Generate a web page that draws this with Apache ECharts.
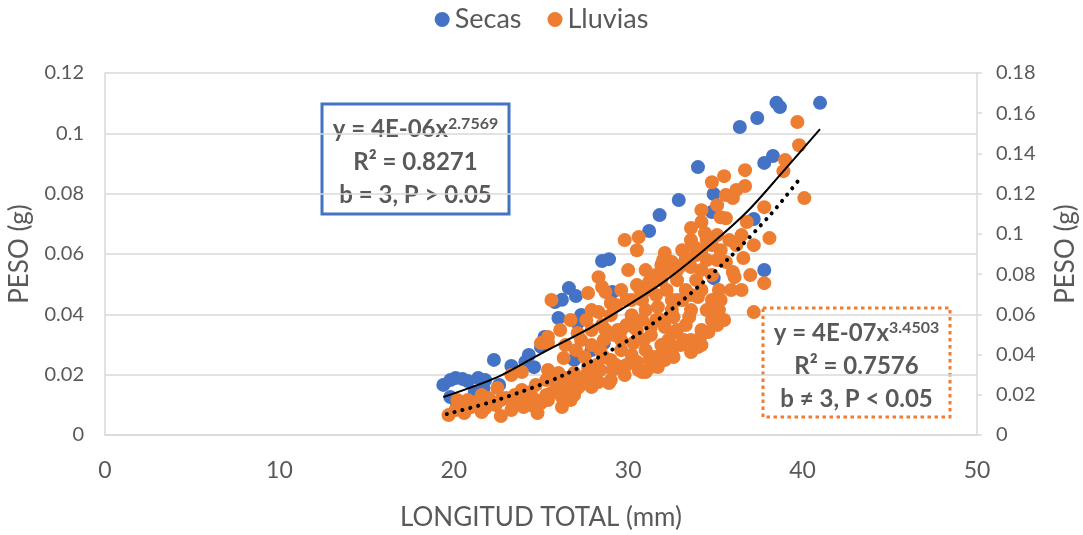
<!DOCTYPE html>
<html>
<head>
<meta charset="utf-8">
<script src="https://cdn.jsdelivr.net/npm/echarts@6/dist/echarts.min.js"></script>
<style>
	html, body { margin: 0; padding: 0; background: #fff; }
	#chart { width: 1083px; height: 535px; }
</style>
</head>
<body>
<div id="chart"></div>
<script>
// Secas (left axis)
const secasX = [19.4, 19.8, 20.1, 20.5, 20.8, 21.4, 21.8, 19.8, 20.2, 21.2, 21.7, 22.6, 22.3, 23.3, 24.1,
	24.3, 24.6, 25.0, 25.2, 25.8, 26.2, 26.6, 27.0, 26.0, 27.3, 27.1, 27.9, 26.9, 28.5, 28.9, 29.1, 30.9,
	31.2, 31.8, 32.9, 34.0, 34.9, 34.8, 35.1, 34.9, 36.4, 37.4, 38.5, 38.7, 41.0, 37.8, 38.3, 37.8, 37.2, 28.6];
const secasY = [0.0166, 0.0182, 0.0189, 0.0186, 0.0179, 0.0189, 0.0182, 0.0126, 0.0099, 0.0143, 0.0156, 0.0166, 0.0249, 0.0229, 0.0242,
	0.0265, 0.0225, 0.0292, 0.0325, 0.0441, 0.0448, 0.0487, 0.0461, 0.0388, 0.0398, 0.0371, 0.0282, 0.0249, 0.0577, 0.0583, 0.0474, 0.0481,
	0.0676, 0.0729, 0.0779, 0.0888, 0.0799, 0.0739, 0.0424, 0.0520, 0.1021, 0.1051, 0.1101, 0.1087, 0.1101, 0.0902, 0.0925, 0.0547, 0.0716, 0.0305];

// Lluvias (right axis)
const lluviasX = [19.7, 20.6, 21.6, 22.7, 20.2, 20.8, 21.0, 21.6, 22.0, 22.5, 22.7, 23.3, 23.5, 23.3, 23.9, 24.0,
	24.4, 24.8, 25.0, 25.4, 25.6, 26.0, 26.2, 26.2, 26.3, 26.3, 26.6, 26.9, 26.9, 27.1, 27.1, 25.4, 25.4, 25.6,
	25.0, 25.4, 27.5, 27.7, 27.9, 28.3, 28.6, 28.6, 28.9, 29.0, 29.8, 30.6, 30.8, 31.3, 31.7, 31.5, 32.1, 32.6,
	27.7, 28.3, 28.5, 28.7, 28.3, 29.0, 29.2, 29.4, 29.8, 30.0, 30.5, 30.6, 30.8, 30.9, 30.3, 30.3, 31.2, 31.3,
	31.7, 31.9, 32.1, 32.0, 32.4, 32.5, 32.3, 32.6, 33.1, 33.2, 33.5, 33.6, 33.8, 34.0, 34.0, 34.2, 34.4, 34.2,
	34.6, 34.8, 34.8, 35.2, 35.3, 35.5, 35.5, 35.6, 35.8, 36.0, 36.0, 36.1, 36.6, 36.7, 36.7, 36.8, 37.0, 37.2,
	37.8, 37.8, 38.1, 38.9, 39.0, 39.7, 39.8, 40.1, 32.1, 32.5, 32.6,
	29.6, 30.2, 31.0, 31.9, 32.8, 33.3, 33.6, 33.1, 32.2, 31.6, 31.0, 30.2, 29.6, 29.0, 28.2, 27.6, 27.0, 29.3,
	29.9, 30.8, 31.6, 32.5, 33.3, 33.9, 34.2, 34.5, 34.8, 34.5, 35.1, 35.3, 35.1, 33.9, 33.1, 33.6, 32.8, 31.9,
	31.3, 34.2, 34.8, 35.6, 36.2, 36.5, 37.2, 35.9, 35.3, 28.5, 27.9, 27.3, 27.9, 29.6, 30.5, 31.0, 31.6, 29.9,
	25.3, 24.7, 25.9, 23.9, 24.4, 23.0, 22.4, 21.8, 21.3, 26.7, 31.0, 33.6, 34.2, 35.1, 35.2,
	20.1, 20.7, 22.1, 23.6, 24.1, 25.3, 24.7, 25.9, 26.4, 27.3, 27.9, 28.4, 29.1, 29.9, 30.5, 31.2, 31.9, 32.5,
	33.0, 33.6, 34.2, 34.8, 28.4, 27.9, 27.0, 26.4, 26.1, 26.7, 27.6, 29.0, 29.3, 30.2, 30.7, 31.3, 32.2, 32.8,
	33.3, 34.2, 34.5, 33.6, 34.2, 35.1, 35.6, 36.2, 31.9, 32.8, 33.6, 31.3, 30.5, 29.6, 28.7, 36.5];
const lluviasY = [0.0099, 0.0109, 0.0114, 0.0094, 0.0174, 0.0174, 0.0139, 0.0199, 0.0184, 0.0234, 0.0174, 0.0124, 0.0199, 0.0298, 0.0313, 0.0139,
	0.0149, 0.0109, 0.0159, 0.0174, 0.0209, 0.0308, 0.0139, 0.0189, 0.0224, 0.0383, 0.0258, 0.0199, 0.0308, 0.0234, 0.0507, 0.0457, 0.0323, 0.0671,
	0.0457, 0.0487, 0.0388, 0.0338, 0.0239, 0.0263, 0.0388, 0.0472, 0.0258, 0.0273, 0.0298, 0.0323, 0.0313, 0.0338, 0.0338, 0.0388, 0.0373, 0.0388,
	0.0706, 0.0785, 0.0736, 0.0711, 0.0611, 0.0656, 0.0497, 0.0522, 0.0969, 0.0820, 0.0919, 0.0984, 0.0671, 0.0472, 0.0457, 0.0537, 0.0760, 0.0537,
	0.0636, 0.0845, 0.0905, 0.0870, 0.0835, 0.0860, 0.0472, 0.0586, 0.0845, 0.0472, 0.0586, 0.0835, 0.0934, 0.0686, 0.0437, 0.1059, 0.1004, 0.0522,
	0.0512, 0.0795, 0.1257, 0.0721, 0.1083, 0.0572, 0.1287, 0.1078, 0.0969, 0.1178, 0.0810, 0.0785, 0.0880, 0.1317, 0.1238, 0.1059, 0.0795, 0.0611,
	0.0755, 0.1133, 0.0979, 0.1312, 0.1367, 0.1556, 0.1441, 0.1178, 0.0537, 0.0671, 0.0507,
	0.0422, 0.0398, 0.0422, 0.0447, 0.0522, 0.0547, 0.0621, 0.0671, 0.0721, 0.0696, 0.0621, 0.0596, 0.0472, 0.0373, 0.0348, 0.0298, 0.0273, 0.0348,
	0.0547, 0.0572, 0.0572, 0.0621, 0.0721, 0.0770, 0.0721, 0.0621, 0.0671, 0.0870, 0.0870, 0.0919, 0.0994, 0.0895, 0.0919, 0.0969, 0.0770, 0.0770,
	0.0721, 0.0820, 0.0944, 0.0860, 0.0944, 0.0994, 0.0944, 0.0721, 0.0671, 0.0547, 0.0522, 0.0472, 0.0621, 0.0721, 0.0746, 0.0820, 0.0795, 0.0671,
	0.0273, 0.0249, 0.0283, 0.0224, 0.0214, 0.0184, 0.0149, 0.0134, 0.0164, 0.0174, 0.0313, 0.0413, 0.0447, 0.0547, 0.0621,
	0.0124, 0.0149, 0.0164, 0.0164, 0.0199, 0.0199, 0.0174, 0.0234, 0.0283, 0.0249, 0.0298, 0.0323, 0.0323, 0.0348, 0.0363, 0.0373, 0.0398, 0.0422,
	0.0447, 0.0472, 0.0497, 0.0572, 0.0422, 0.0447, 0.0422, 0.0447, 0.0522, 0.0572, 0.0572, 0.0596, 0.0646, 0.0671, 0.0721, 0.0770, 0.0820, 0.0820,
	0.0880, 0.0919, 0.0969, 0.1029, 0.1118, 0.1143, 0.1193, 0.1218, 0.0572, 0.0671, 0.0696, 0.0497, 0.0522, 0.0522, 0.0522, 0.0721];

// trend lines
const trendSecasX = [19.4, 22.5, 25.0, 27.9, 30.2, 32.1, 34.9, 36.9, 38.8, 41.0];
const trendSecasY = [0.0126, 0.0192, 0.0270, 0.0358, 0.0438, 0.0510, 0.0640, 0.0745, 0.0868, 0.1014];
const trendLluviasX = [19.6, 22.5, 26.3, 30.2, 33.0, 35.9, 38.2, 39.8];
const trendLluviasY = [0.0104, 0.0174, 0.0298, 0.0482, 0.0661, 0.0890, 0.1100, 0.1270];

const boxSecas = ['y = 4E-06x', '2.7569', 'R² = 0.8271', 'b = 3, P > 0.05'];
const boxLluvias = ['y = 4E-07x', '3.4503', 'R² = 0.7576', 'b ≠ 3, P < 0.05'];

const FONT = 'Lato, "Open Sans", sans-serif';
const TEXT = '#595959';
const GRID = '#d9d9d9';

const zip = (xs, ys) => xs.map((x, i) => [x, ys[i]]);

function boxGraphic(left, top, w, h, color, dash, fill, lines) {
	const cx = left + w / 2;
	const bold = { fontFamily: FONT, fontWeight: 'bold', fontSize: 24, fill: TEXT };
	return {
		type: 'group',
		z: 10,
		children: [
			{
				type: 'rect',
				shape: { x: left, y: top, width: w, height: h },
				style: { fill: fill, stroke: color, lineWidth: 3, lineDash: dash }
			},
			{
				type: 'text',
				style: {
					x: cx, y: top + 25, align: 'center', verticalAlign: 'middle',
					text: '{a|' + lines[0] + '}{s|' + lines[1] + '}',
					rich: {
						a: { fontFamily: FONT, fontWeight: 'bold', fontSize: 24, fill: TEXT },
						s: { fontFamily: FONT, fontWeight: 'bold', fontSize: 16, fill: TEXT, verticalAlign: 'top', padding: [0, 0, 10, 0] }
					}
				}
			},
			{ type: 'text', style: Object.assign({ x: cx, y: top + 58, align: 'center', verticalAlign: 'middle', text: lines[2] }, bold) },
			{ type: 'text', style: Object.assign({ x: cx, y: top + 91, align: 'center', verticalAlign: 'middle', text: lines[3] }, bold) }
		]
	};
}

const chart = echarts.init(document.getElementById('chart'));

const axisLabel = { fontFamily: FONT, fontSize: 20, color: TEXT };
const nameStyle = { fontFamily: FONT, fontSize: 26, color: TEXT };

chart.setOption({
	animation: false,
	textStyle: { fontFamily: FONT },
	legend: {
		data: ['Secas', 'Lluvias'],
		top: 1,
		left: 'center',
		icon: 'circle',
		itemWidth: 15,
		itemHeight: 15,
		itemGap: 26,
		textStyle: { fontFamily: FONT, fontSize: 27, color: TEXT }
	},
	grid: { left: 105, right: 106, top: 73, bottom: 100, outerBoundsMode: 'none' },
	xAxis: {
		type: 'value',
		min: 0, max: 50, interval: 10,
		name: 'LONGITUD TOTAL (mm)',
		nameLocation: 'middle',
		nameGap: 70,
		nameTextStyle: nameStyle,
		axisLine: { show: true, lineStyle: { color: GRID, width: 1.5 } },
		axisTick: { show: false },
		axisLabel: Object.assign({}, axisLabel, { fontSize: 23, margin: 24 }),
		splitLine: { show: false }
	},
	yAxis: [
		{
			type: 'value',
			min: 0, max: 0.12, interval: 0.02,
			name: 'PESO (g)',
			nameLocation: 'middle',
			nameGap: 72,
			nameRotate: 90,
			nameTextStyle: nameStyle,
			axisLine: { show: true, lineStyle: { color: GRID, width: 1.5 } },
			axisTick: { show: false },
			axisLabel: Object.assign({ margin: 21 }, axisLabel),
			splitLine: { lineStyle: { color: GRID, width: 1.5 } }
		},
		{
			type: 'value',
			min: 0, max: 0.18, interval: 0.02,
			name: 'PESO (g)',
			nameLocation: 'middle',
			nameGap: 76,
			nameRotate: 90,
			nameTextStyle: nameStyle,
			axisLine: { show: true, lineStyle: { color: GRID, width: 1.5 } },
			axisTick: { show: true, length: 5, lineStyle: { color: GRID, width: 1.5 } },
			axisLabel: Object.assign({ margin: 19 }, axisLabel),
			splitLine: { show: false }
		}
	],
	series: [
		{
			name: 'Secas',
			type: 'scatter',
			yAxisIndex: 0,
			symbolSize: 14,
			itemStyle: { color: '#4472c4', opacity: 1 },
			data: zip(secasX, secasY)
		},
		{
			name: 'Lluvias',
			type: 'scatter',
			yAxisIndex: 1,
			symbolSize: 14,
			itemStyle: { color: '#ed7d31', opacity: 1 },
			data: zip(lluviasX, lluviasY)
		},
		{
			name: 'trend Secas',
			type: 'line',
			yAxisIndex: 0,
			smooth: 0.3,
			symbol: 'none',
			silent: true,
			lineStyle: { color: '#000', width: 2 },
			data: zip(trendSecasX, trendSecasY),
			z: 5
		},
		{
			name: 'trend Lluvias',
			type: 'line',
			yAxisIndex: 1,
			smooth: 0.3,
			symbol: 'none',
			silent: true,
			lineStyle: { color: '#000', width: 4, type: [0.1, 8], cap: 'round' },
			data: zip(trendLluviasX, trendLluviasY),
			z: 5
		}
	],
	graphic: [
		boxGraphic(322, 104, 187, 110, '#4472c4', null, '#fff', boxSecas),
		boxGraphic(763, 308, 187, 109, '#ed7d31', [3.5, 3.5], 'transparent', boxLluvias)
	]
});
</script>
</body>
</html>
